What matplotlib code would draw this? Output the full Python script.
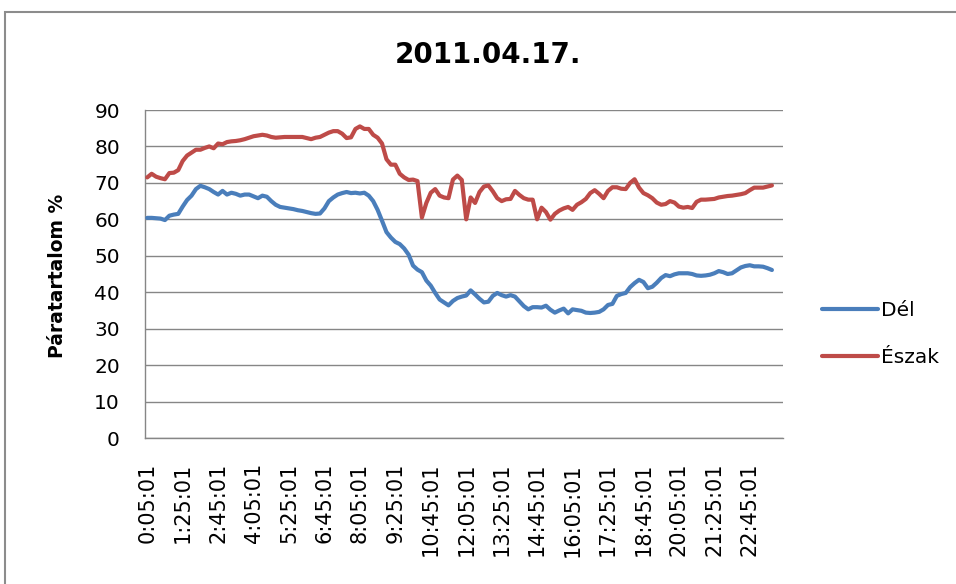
import matplotlib
matplotlib.use("Agg")
import matplotlib.pyplot as plt
from matplotlib.patches import Rectangle
import numpy as np

# Time categories (10-minute steps), tick labels every 8th category
categories = [f"{(5 + 10 * i) // 60}:{(5 + 10 * i) % 60:02d}:01" for i in range(144)]

del_values = [
    60.4, 60.4, 60.3, 60.2, 59.8, 61.0, 61.3, 61.5, 63.5, 65.3,
    66.5, 68.3, 69.2, 68.8, 68.3, 67.5, 66.8, 67.8, 66.8, 67.3,
    67.0, 66.5, 66.8, 66.8, 66.3, 65.8, 66.5, 66.2, 65.0, 64.0,
    63.4, 63.2, 63.0, 62.8, 62.5, 62.3, 62.0, 61.7, 61.5, 61.6,
    63.0, 65.0, 66.0, 66.8, 67.2, 67.5, 67.2, 67.3, 67.1, 67.3,
    66.5, 65.0, 62.6, 59.6, 56.5, 55.0, 53.8, 53.2, 52.0, 50.3,
    47.3, 46.2, 45.5, 43.2, 41.8, 39.8, 38.0, 37.2, 36.4, 37.6,
    38.4, 38.8, 39.1, 40.5, 39.4, 38.2, 37.2, 37.4, 39.0, 39.8,
    39.2, 38.8, 39.2, 38.8, 37.5, 36.2, 35.3, 35.9, 35.9, 35.8,
    36.3, 35.2, 34.4, 35.0, 35.5, 34.2, 35.3, 35.1, 34.9, 34.4,
    34.3, 34.4, 34.6, 35.3, 36.5, 36.8, 39.0, 39.5, 39.8, 41.4,
    42.5, 43.4, 42.8, 41.1, 41.5, 42.6, 43.9, 44.7, 44.4, 44.9,
    45.2, 45.2, 45.2, 45.0, 44.6, 44.5, 44.6, 44.8, 45.2, 45.8,
    45.5, 45.0, 45.2, 46.0, 46.8, 47.2, 47.4, 47.1, 47.1, 47.0,
    46.6, 46.1,
]

eszak_values = [
    71.5, 72.5, 71.7, 71.3, 71.0, 72.7, 72.8, 73.5, 76.0, 77.5,
    78.3, 79.1, 79.1, 79.6, 80.0, 79.5, 80.8, 80.6, 81.2, 81.4,
    81.5, 81.7, 82.0, 82.4, 82.8, 83.0, 83.2, 83.0, 82.6, 82.4,
    82.5, 82.6, 82.6, 82.6, 82.6, 82.6, 82.3, 82.0, 82.4, 82.6,
    83.2, 83.8, 84.2, 84.2, 83.5, 82.3, 82.5, 84.8, 85.5, 84.8,
    84.8, 83.2, 82.4, 80.8, 76.5, 75.0, 75.0, 72.5, 71.5, 70.8,
    70.9, 70.5, 60.5, 64.5, 67.3, 68.3, 66.5, 66.0, 65.8, 70.9,
    72.0, 70.8, 60.0, 66.0, 64.5, 67.5, 69.0, 69.3, 67.7, 65.8,
    65.0, 65.5, 65.6, 67.8, 66.7, 65.8, 65.4, 65.4, 60.0, 63.2,
    62.0, 59.9, 61.5, 62.4, 63.0, 63.4, 62.6, 64.0, 64.7, 65.6,
    67.2, 68.0, 67.0, 65.8, 67.8, 68.8, 68.8, 68.4, 68.3, 70.0,
    71.0, 68.7, 67.2, 66.6, 65.8, 64.6, 64.0, 64.2, 65.0, 64.6,
    63.5, 63.2, 63.4, 63.1, 64.8, 65.4, 65.4, 65.5, 65.6, 66.0,
    66.2, 66.4, 66.5, 66.7, 66.9, 67.2, 68.0, 68.7, 68.7, 68.7,
    69.0, 69.3,
]

series_names = ["Dél", "Észak"]
title = "2011.04.17."
y_label = "Páratartalom %"
y_ticks = [0, 10, 20, 30, 40, 50, 60, 70, 80, 90]

BLUE = "#4A7EBB"
RED = "#BE4B48"
GRID = "#868686"

fig = plt.figure(figsize=(9.56, 5.84), dpi=100)
fig.patch.set_facecolor("white")
ax = fig.add_axes([145 / 956, 1 - 438 / 584, 638 / 956, 328 / 584])

x_del = np.arange(len(del_values))
x_esz = np.arange(len(eszak_values))
ax.plot(x_del, del_values, color=BLUE, lw=3, solid_joinstyle="round",
        solid_capstyle="round", label=series_names[0], zorder=3)
ax.plot(x_esz, eszak_values, color=RED, lw=3, solid_joinstyle="round",
        solid_capstyle="round", label=series_names[1], zorder=3)

ax.set_xlim(-0.5, len(categories) - 0.5)
ax.set_ylim(0, 90)
ax.set_yticks(y_ticks)
ax.set_yticklabels([str(v) for v in y_ticks])
tick_pos = list(range(0, len(categories), 8))
ax.set_xticks(tick_pos)
ax.set_xticklabels([categories[i] for i in tick_pos], rotation=90)

ax.grid(axis="y", color=GRID, lw=1)
ax.set_axisbelow(True)
for s in ("top", "right"):
    ax.spines[s].set_visible(False)
for s in ("left", "bottom"):
    ax.spines[s].set_color(GRID)
    ax.spines[s].set_linewidth(1)

ax.tick_params(axis="x", length=0, pad=18, labelsize=15)
ax.tick_params(axis="y", length=0, pad=18, labelsize=14.5)

ax.set_ylabel(y_label, fontsize=13.5, fontweight="bold")
ax.yaxis.set_label_coords(-0.122, 0.494)

fig.text(488 / 956, 1 - 55 / 584, title, fontsize=20, fontweight="bold",
         ha="center", va="center")

leg = ax.legend(loc="upper left", bbox_to_anchor=(822 / 956, 1 - 301 / 584),
                bbox_transform=fig.transFigure, frameon=False, fontsize=14.5,
                handlelength=2.8, handletextpad=0.15, labelspacing=1.4,
                borderpad=0, borderaxespad=0)

fig.add_artist(Rectangle((5 / 956, -0.2), 2.0, (1 - 12 / 584) + 0.2,
                         transform=fig.transFigure, fill=False,
                         edgecolor="#8c8c8c", lw=1.5))

fig.savefig("out.png", dpi=100)
